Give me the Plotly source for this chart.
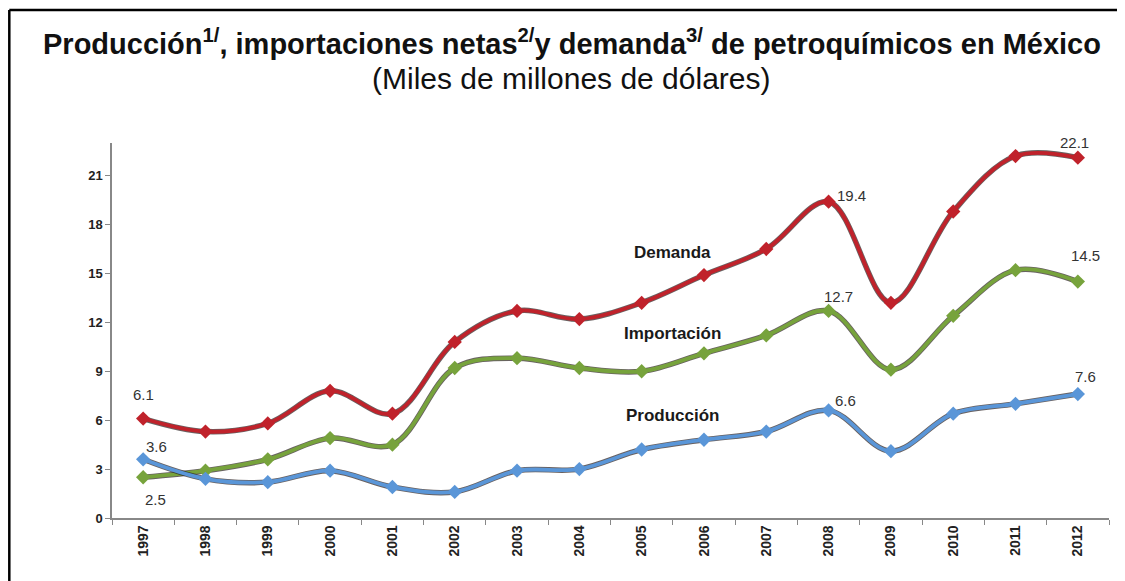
import plotly.graph_objects as go

years = [str(y) for y in range(1997, 2013)]
produccion = [3.6, 2.4, 2.2, 2.9, 1.9, 1.6, 2.9, 3.0, 4.2, 4.8, 5.3, 6.6, 4.1, 6.4, 7.0, 7.6]
importacion = [2.5, 2.9, 3.6, 4.9, 4.5, 9.2, 9.8, 9.2, 9.0, 10.1, 11.2, 12.7, 9.1, 12.4, 15.2, 14.5]
demanda = [6.1, 5.3, 5.8, 7.8, 6.4, 10.8, 12.7, 12.2, 13.2, 14.9, 16.5, 19.4, 13.2, 18.8, 22.2, 22.1]

y_ticks = [0, 3, 6, 9, 12, 15, 18, 21]

FONT = "Arial, 'Liberation Sans', sans-serif"
RED = "#C0222B"
GREEN = "#77A33C"
BLUE = "#5A96D8"

fig = go.Figure()

for vals, col in [(demanda, RED), (importacion, GREEN), (produccion, BLUE)]:
    fig.add_trace(go.Scatter(
        x=years, y=vals, mode="lines",
        line=dict(color="rgba(40,30,30,0.7)", width=5.5, shape="spline", smoothing=1.0),
        hoverinfo="skip", showlegend=False))
    fig.add_trace(go.Scatter(
        x=years, y=vals, mode="lines+markers",
        line=dict(color=col, width=3.8, shape="spline", smoothing=1.0),
        marker=dict(symbol="diamond", size=11, color=col),
        showlegend=False))

# data labels (series, index, xshift, yshift)
labels = [
    (demanda, 0, 0, 24),
    (produccion, 0, 13, 13),
    (importacion, 0, 12, -22),
    (demanda, 11, 23, 6),
    (importacion, 11, 10, 14),
    (produccion, 11, 17, 10),
    (demanda, 15, -3, 15),
    (importacion, 15, 8, 26),
    (produccion, 15, 8, 18),
]
ann = []
for series, i, xs, ys in labels:
    ann.append(dict(x=i, y=series[i], xref="x", yref="y",
                    text=f"{series[i]:.1f}", showarrow=False,
                    xshift=xs, yshift=ys,
                    font=dict(family=FONT, size=15, color="#333333")))

series_names = [("Demanda", 8.5, 16.3), ("Importación", 8.5, 11.3), ("Producción", 8.5, 6.3)]
for name, xi, yv in series_names:
    ann.append(dict(x=xi, y=yv, xref="x", yref="y", text=f"<b>{name}</b>", showarrow=False,
                    font=dict(family=FONT, size=17, color="#1a1a1a")))

ann.append(dict(x=0.461, y=1.0, xref="paper", yref="paper", yshift=101,
                text="<b>Producción<sup>1/</sup>, importaciones netas<sup>2/</sup>y demanda<sup>3/</sup> de petroquímicos en México</b>",
                showarrow=False, xanchor="center", yanchor="middle",
                font=dict(family=FONT, size=29, color="#111111")))
ann.append(dict(x=0.461, y=1.0, xref="paper", yref="paper", yshift=65,
                text="(Miles de millones de dólares)",
                showarrow=False, xanchor="center", yanchor="middle",
                font=dict(family=FONT, size=30, color="#111111")))

fig.update_layout(
    width=1117, height=573,
    margin=dict(l=104, r=16, t=135, b=63),
    paper_bgcolor="white", plot_bgcolor="white",
    annotations=ann,
    shapes=[
        dict(type="line", xref="paper", yref="paper", x0=-0.103, x1=1.05, y0=1.355, y1=1.355,
             line=dict(color="black", width=2.5)),
        dict(type="line", xref="paper", yref="paper", x0=-0.103, x1=-0.103, y0=1.355, y1=-0.3,
             line=dict(color="black", width=2.5)),
    ],
    xaxis=dict(
        type="category", range=[-0.5, 15.5],
        showline=True, linecolor="#888888", linewidth=1.5,
        ticks="outside", tickson="boundaries", ticklen=5, tickcolor="#888888",
        tickangle=-90, showgrid=False, zeroline=False,
        tickfont=dict(family=FONT, size=14, color="#222222", weight="bold"),
    ),
    yaxis=dict(
        range=[0, 23], tickvals=y_ticks,
        showline=True, linecolor="#888888", linewidth=1.5,
        ticks="outside", ticklen=5, tickcolor="#888888",
        showgrid=False, zeroline=False,
        tickfont=dict(family=FONT, size=13, color="#222222", weight="bold"),
    ),
)

fig.write_html("out.html")
